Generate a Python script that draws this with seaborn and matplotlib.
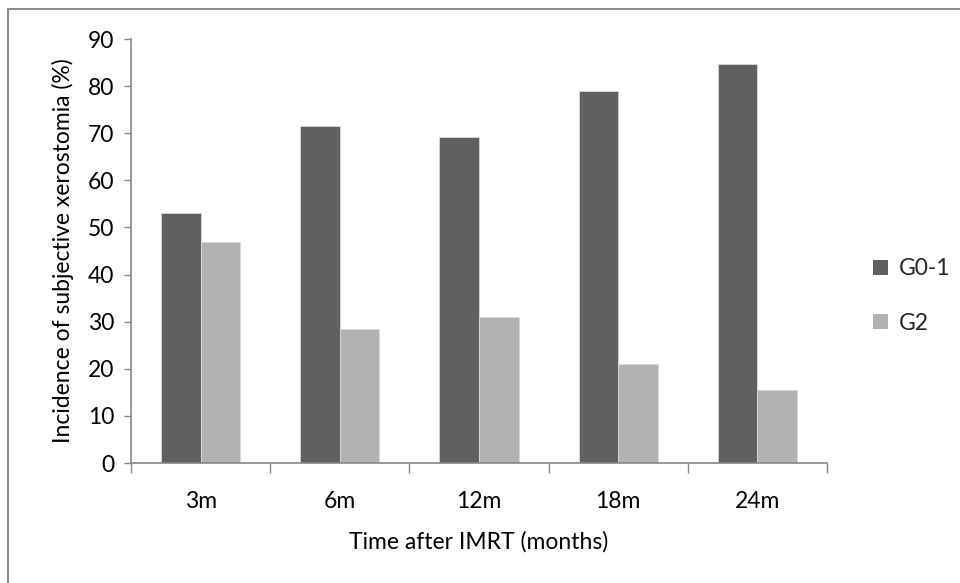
import matplotlib
matplotlib.use("Agg")
import matplotlib.pyplot as plt
import seaborn as sns
import pandas as pd
from matplotlib.patches import Rectangle, Patch

categories = ["3m", "6m", "12m", "18m", "24m"]
g01 = [53.0, 71.5, 69.1, 78.9, 84.7]
g2 = [47.0, 28.5, 30.9, 21.1, 15.4]
series_names = ["G0-1", "G2"]
colors = ["#606060", "#b2b2b2"]
yticks = [0, 10, 20, 30, 40, 50, 60, 70, 80, 90]

df = pd.DataFrame({
    "time": categories * 2,
    "value": g01 + g2,
    "group": [series_names[0]] * len(categories) + [series_names[1]] * len(categories),
})

sns.set_theme(style="white")
plt.rcParams["font.family"] = ["Lato", "DejaVu Sans"]

fig = plt.figure(figsize=(9.6, 5.83), dpi=100)
ax = fig.add_axes([131/960, 1-463/583, (827-131)/960, (463-39)/583])

sns.barplot(data=df, x="time", y="value", hue="group", palette=colors,
            width=0.57, ax=ax, legend=False, saturation=1,
            edgecolor="#d9d9d9", linewidth=0.6)

axis_col = "#868686"
fs = 16.5
ax.set_ylim(0, 90)
ax.set_xlim(-0.5, len(categories) - 0.5)
ax.set_yticks(yticks)
ax.set_yticklabels([str(t) for t in yticks], fontsize=fs, color="#000000")
ax.set_xticks(range(len(categories)))
ax.set_xticklabels(categories, fontsize=fs, color="#000000")
ax.set_xticks([i - 0.5 for i in range(len(categories) + 1)], minor=True)
ax.tick_params(axis="x", which="major", bottom=True, length=0, pad=20)
ax.tick_params(axis="x", which="minor", bottom=True, length=7, width=1, color=axis_col, direction="out")
ax.tick_params(axis="y", which="major", left=True, length=5, width=1, color=axis_col, direction="out", pad=7)
for s in ["top", "right"]:
    ax.spines[s].set_visible(False)
for s in ["left", "bottom"]:
    ax.spines[s].set_color(axis_col)
    ax.spines[s].set_linewidth(1.2)
ax.set_xlabel("Time after IMRT (months)", fontsize=fs, color="#000000", labelpad=14)
ax.set_ylabel("Incidence of subjective xerostomia (%)", fontsize=fs, color="#000000", labelpad=10)

handles = [Patch(facecolor=c, edgecolor="none") for c in colors]
fig.legend(handles, series_names, loc="center left", bbox_to_anchor=(852/960, 1-296/583),
           frameon=False, fontsize=fs, handlelength=0.65, handleheight=0.65,
           labelspacing=1.45, handletextpad=0.5)

fig.patches.append(Rectangle((8/960, -0.05), 1.2, 1.05 - 9/583, transform=fig.transFigure,
                             fill=False, edgecolor="#8c8c8c", linewidth=1.5, figure=fig))

fig.savefig("out.png", dpi=100, facecolor="white")
